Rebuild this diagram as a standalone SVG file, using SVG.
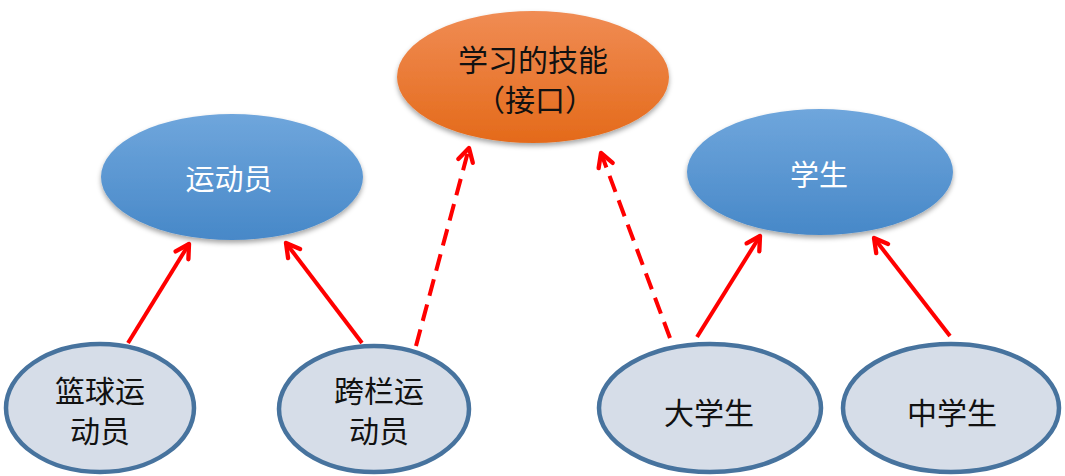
<svg xmlns="http://www.w3.org/2000/svg" width="1065" height="476" viewBox="0 0 1065 476">
<style>
text{font-family:"Noto Sans CJK SC","Noto Sans",sans-serif;text-anchor:middle}
.dark{fill:#111;font-size:30px}
.light{fill:#fff;font-size:29px}
.sub{fill:#d6dde8;stroke:#47739e;stroke-width:4.5}
.conn{stroke:#ff0000;stroke-width:4;fill:none;marker-end:url(#ah)}
.dash{stroke-dasharray:17 9}
</style>
<defs>
<linearGradient id="gb" x1="0" y1="0" x2="0" y2="1"><stop offset="0" stop-color="#6fa6dc"/><stop offset="1" stop-color="#4788c8"/></linearGradient>
<linearGradient id="go" x1="0" y1="0" x2="0" y2="1"><stop offset="0" stop-color="#f08c54"/><stop offset="1" stop-color="#e46a1a"/></linearGradient>
<filter id="sh" x="-10%" y="-10%" width="120%" height="130%"><feDropShadow dx="0" dy="3" stdDeviation="2.5" flood-color="#000" flood-opacity="0.35"/></filter>
<marker id="ah" viewBox="0 0 12 12" refX="10" refY="6" markerWidth="5" markerHeight="5" orient="auto" markerUnits="strokeWidth"><path d="M2,1.5 L10,6 L2,10.5" fill="none" stroke="#ff0000" stroke-width="2.6" stroke-linecap="round" stroke-linejoin="round"/></marker>
</defs>
<g id="connectors">
<line class="conn" x1="128" y1="343" x2="189" y2="244"/>
<line class="conn" x1="362" y1="343" x2="286" y2="243"/>
<line class="conn dash" x1="416" y1="346" x2="469" y2="148"/>
<line class="conn dash" x1="670" y1="338" x2="601" y2="153"/>
<line class="conn" x1="697" y1="337" x2="760" y2="236"/>
<line class="conn" x1="950" y1="336" x2="874" y2="238"/>
</g>
<g id="skill">
<ellipse cx="533" cy="77" rx="136" ry="66" fill="url(#go)" filter="url(#sh)"/>
<text class="dark" x="533" y="71">学习的技能<tspan x="535" y="111">（接口）</tspan></text>
</g>
<g id="athlete">
<ellipse cx="232" cy="177" rx="131" ry="63" fill="url(#gb)" filter="url(#sh)"/>
<text class="light" x="229" y="190">运动员</text>
</g>
<g id="student">
<ellipse cx="820" cy="172" rx="133" ry="63" fill="url(#gb)" filter="url(#sh)"/>
<text class="light" x="819" y="186">学生</text>
</g>
<g id="basketball">
<ellipse class="sub" cx="100" cy="408" rx="94" ry="64"/>
<text class="dark" x="100" y="402">篮球运<tspan x="100" y="442">动员</tspan></text>
</g>
<g id="hurdle">
<ellipse class="sub" cx="374" cy="409" rx="95" ry="63"/>
<text class="dark" x="379" y="402">跨栏运<tspan x="379" y="442">动员</tspan></text>
</g>
<g id="college">
<ellipse class="sub" cx="710" cy="408" rx="111" ry="64"/>
<text class="dark" x="709" y="424">大学生</text>
</g>
<g id="middle">
<ellipse class="sub" cx="951" cy="408" rx="108" ry="64"/>
<text class="dark" x="952" y="424">中学生</text>
</g>
</svg>
